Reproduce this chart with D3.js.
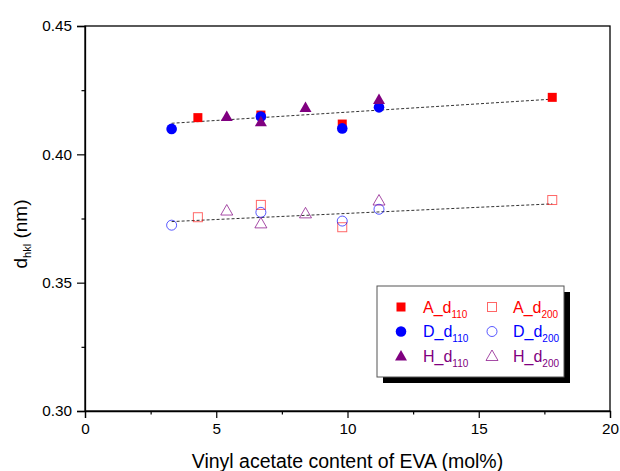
<!DOCTYPE html>
<html><head><meta charset="utf-8">
<script src="https://cdn.jsdelivr.net/npm/d3@7"></script>
<style>body{margin:0;background:#fff}svg{display:block}text{font-family:"Liberation Sans",Arial,sans-serif}</style>
</head><body><svg id="c" width="620" height="471"></svg>
<script>
// Data
const A110 = [[4.3,0.4143],[6.7,0.4153],[9.8,0.4118],[17.8,0.4222]];
const D110 = [[3.3,0.4099],[6.7,0.4147],[9.8,0.4101],[11.2,0.4183]];
const H110 = [[5.4,0.4147],[6.7,0.4127],[8.4,0.4182],[11.2,0.4214]];
const A200 = [[4.3,0.3755],[6.7,0.3803],[9.8,0.3716],[17.8,0.3822]];
const D200 = [[3.3,0.3724],[6.7,0.3774],[9.8,0.3740],[11.2,0.3786]];
const H200 = [[5.4,0.3781],[6.7,0.3731],[8.4,0.3770],[11.2,0.3820]];
const fit110 = [[3.3,0.4121],[17.8,0.4215]];
const fit200 = [[3.3,0.3738],[17.8,0.3807]];
const xTicks = [0,5,10,15,20];
const yTicks = [0.30,0.35,0.40,0.45];
const legendLabels = [["A_d","110"],["A_d","200"],["D_d","110"],["D_d","200"],["H_d","110"],["H_d","200"]];

const svg = d3.select("#c");
const L=85,R=610,T=26,B=411;
const x = d3.scaleLinear().domain([0,20]).range([L,R]);
const y = d3.scaleLinear().domain([0.30,0.45]).range([B,T]);

// frame
svg.append("rect").attr("x",L).attr("y",T).attr("width",R-L).attr("height",B-T)
  .attr("fill","none").attr("stroke","#000").attr("stroke-width",1.3);

// axes
svg.append("g").attr("transform",`translate(0,${B})`)
  .call(d3.axisBottom(x).tickValues(xTicks).tickFormat(d3.format("d")).tickSize(7).tickPadding(5));
svg.append("g").attr("transform",`translate(0,${B})`)
  .call(d3.axisBottom(x).tickValues([2.5,7.5,12.5,17.5]).tickFormat("").tickSize(3.5))
  .select(".domain").remove();
svg.append("g").attr("transform",`translate(${L},0)`)
  .call(d3.axisLeft(y).tickValues(yTicks).tickFormat(d3.format(".2f")).tickSize(8).tickPadding(5));
svg.append("g").attr("transform",`translate(${L},0)`)
  .call(d3.axisLeft(y).tickValues([0.325,0.375,0.425]).tickFormat("").tickSize(3.5))
  .select(".domain").remove();
svg.selectAll(".domain").attr("stroke-width",1.3);
svg.selectAll(".tick line").attr("stroke-width",1.2);
svg.selectAll(".tick text").attr("font-size",15.3).attr("font-family","Liberation Sans, Arial").attr("fill","#000");

// axis titles
svg.append("text").attr("x",(L+R)/2).attr("y",468).attr("text-anchor","middle")
  .attr("font-size",19.5).text("Vinyl acetate content of EVA (mol%)");
const yt = svg.append("text").attr("transform",`translate(27,234) rotate(-90)`)
  .attr("text-anchor","middle").attr("font-size",19);
yt.append("tspan").text("d");
yt.append("tspan").attr("font-size",11).attr("dy",4).text("hkl");
yt.append("tspan").attr("dy",-4).text(" (nm)");

// fit lines
const line = d3.line().x(d=>x(d[0])).y(d=>y(d[1]));
[fit110,fit200].forEach(f=>svg.append("path").attr("d",line(f)).attr("fill","none")
  .attr("stroke","#333").attr("stroke-width",1).attr("stroke-dasharray","3,2"));

const red="#ff0000",blue="#0000ff",purple="#800080";
function marker(g, type, cx, cy, color, filled){
  if(type==="sq"){
    const s=9;
    g.append("rect").attr("x",cx-s/2).attr("y",cy-s/2).attr("width",s).attr("height",s)
      .attr("fill",filled?color:"none").attr("stroke",color).attr("stroke-opacity",filled?1:0.6).attr("stroke-width",filled?0:1);
  } else if(type==="ci"){
    g.append("circle").attr("cx",cx).attr("cy",cy).attr("r",filled?5.3:5)
      .attr("fill",filled?color:"none").attr("stroke",color).attr("stroke-opacity",filled?1:0.65).attr("stroke-width",filled?0:1);
  } else {
    const h=10, w=12;
    g.append("path").attr("d",`M${cx},${cy-h*0.6}L${cx+w/2},${cy+h*0.45}L${cx-w/2},${cy+h*0.45}Z`)
      .attr("fill",filled?color:"none").attr("stroke",color).attr("stroke-opacity",filled?1:0.7).attr("stroke-width",filled?0:1);
  }
}
const series=[
  [A200,"sq",red,false],[D200,"ci",blue,false],[H200,"tr",purple,false],
  [A110,"sq",red,true],[D110,"ci",blue,true],[H110,"tr",purple,true]
];
const pg=svg.append("g");
series.forEach(([data,t,c,f])=>data.forEach(d=>marker(pg,t,x(d[0]),y(d[1]),c,f)));

// legend
const lx=377, ly=286, lw=187, lh=91;
svg.append("rect").attr("x",lx+6).attr("y",ly+6).attr("width",lw).attr("height",lh).attr("fill","#000");
svg.append("rect").attr("x",lx).attr("y",ly).attr("width",lw).attr("height",lh).attr("fill","#fff").attr("stroke","#555").attr("stroke-width",1);
const lg=svg.append("g");
const rows=[[red,"sq"],[blue,"ci"],[purple,"tr"]];
rows.forEach(([c,t],i)=>{
  const ry=ly+21+i*24.5;
  [0,1].forEach(j=>{
    const sx = j===0?401:492, tx = j===0?423:513;
    marker(lg,t,sx,ry,c,j===0);
    const lab=legendLabels[i*2+j];
    const tt=lg.append("text").attr("x",tx).attr("y",ry+5.5).attr("font-size",16).attr("fill",c);
    tt.append("tspan").text(lab[0]);
    tt.append("tspan").attr("font-size",10).attr("dy",5).text(lab[1]);
  });
});
</script></body></html>
